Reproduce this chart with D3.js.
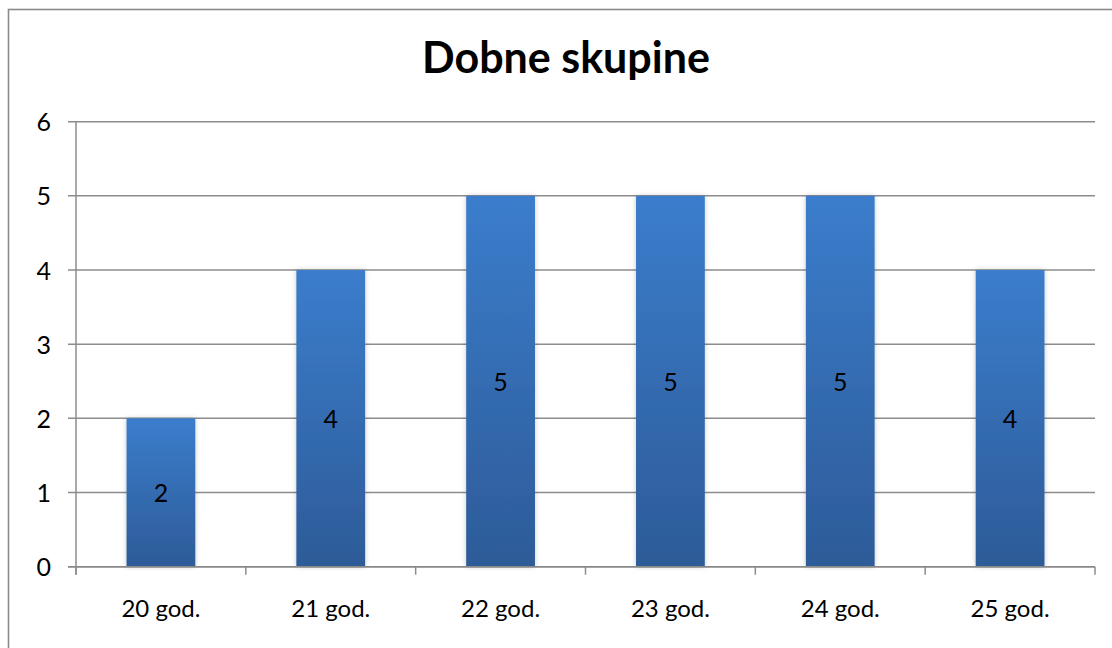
<!DOCTYPE html>
<html><head><meta charset="utf-8">
<script src="https://cdn.jsdelivr.net/npm/d3@7"></script>
<style>html,body{margin:0;padding:0;background:#fff;overflow:hidden}</style>
</head><body>
<svg id="c" width="1112" height="648"></svg>
<script>
const categories = ["20 god.","21 god.","22 god.","23 god.","24 god.","25 god."];
const values = [2,4,5,5,5,4];
const yTicks = [0,1,2,3,4,5,6];
const title = "Dobne skupine";

const svg = d3.select("#c");
const FONT = "Lato, 'Open Sans', sans-serif";
const m = {left:76, right:1095, top:121.7, bottom:566.7};

const defs = svg.append("defs");
const g = defs.append("linearGradient").attr("id","barGrad").attr("x1",0).attr("y1",0).attr("x2",0).attr("y2",1);
g.append("stop").attr("offset","0%").attr("stop-color","#3b7dcc");
g.append("stop").attr("offset","100%").attr("stop-color","#2d5b98");
const f = defs.append("filter").attr("id","shadow").attr("x","-20%").attr("y","-5%").attr("width","140%").attr("height","110%");
f.append("feDropShadow").attr("dx",0).attr("dy",0).attr("stdDeviation",2.5).attr("flood-color","#000").attr("flood-opacity",0.22);

// frame
svg.append("rect").attr("x",8.5).attr("y",9.5).attr("width",1300).attr("height",800)
  .attr("fill","none").attr("stroke","#8a8a8a").attr("stroke-width",1.6);

const x = d3.scaleBand().domain(categories).range([m.left,m.right]).paddingInner(0).paddingOuter(0);
const y = d3.scaleLinear().domain([0,6]).range([m.bottom,m.top]);

// gridlines
svg.append("g").selectAll("line").data(yTicks).join("line")
  .attr("x1",68).attr("x2",m.right).attr("y1",d=>y(d)).attr("y2",d=>y(d))
  .attr("stroke","#8c8c8c").attr("stroke-width",1.5);

// y axis line
svg.append("line").attr("x1",m.left).attr("x2",m.left).attr("y1",m.top).attr("y2",m.bottom+8)
  .attr("stroke","#8c8c8c").attr("stroke-width",1.5);

// x category ticks
const bounds = categories.map(c=>x(c)).concat([m.right]);
svg.append("g").selectAll("line").data(bounds).join("line")
  .attr("x1",d=>d).attr("x2",d=>d).attr("y1",m.bottom).attr("y2",m.bottom+8)
  .attr("stroke","#8c8c8c").attr("stroke-width",1.5);

// bars
const bw = x.bandwidth()*0.405;
svg.append("g").selectAll("rect").data(values).join("rect")
  .attr("x",(d,i)=>x(categories[i])+x.bandwidth()/2-bw/2)
  .attr("width",bw)
  .attr("y",d=>y(d)).attr("height",d=>y(0)-y(d))
  .attr("fill","url(#barGrad)").attr("filter","url(#shadow)");

// x axis baseline over bars
svg.append("line").attr("x1",68).attr("x2",m.right).attr("y1",y(0)).attr("y2",y(0))
  .attr("stroke","#888").attr("stroke-width",1.6);

// data labels
svg.append("g").selectAll("text").data(values).join("text")
  .attr("x",(d,i)=>x(categories[i])+x.bandwidth()/2)
  .attr("y",d=>(y(d)+y(0))/2+9.5)
  .attr("text-anchor","middle").attr("font-family",FONT).attr("font-size",25).attr("fill","#000")
  .text(d=>d);

// y tick labels
svg.append("g").selectAll("text").data(yTicks).join("text")
  .attr("x",51).attr("y",d=>y(d)+9.5)
  .attr("text-anchor","end").attr("font-family",FONT).attr("font-size",25).attr("fill","#000")
  .text(d=>d);

// x labels
svg.append("g").selectAll("text").data(categories).join("text")
  .attr("x",d=>x(d)+x.bandwidth()/2).attr("y",617)
  .attr("text-anchor","middle").attr("font-family",FONT).attr("font-size",24).attr("fill","#000")
  .text(d=>d);

// title
svg.append("text").attr("x",566).attr("y",73).attr("text-anchor","middle")
  .attr("font-family",FONT).attr("font-weight","bold").attr("font-size",43).attr("fill","#000")
  .text(title);
</script>
</body></html>
